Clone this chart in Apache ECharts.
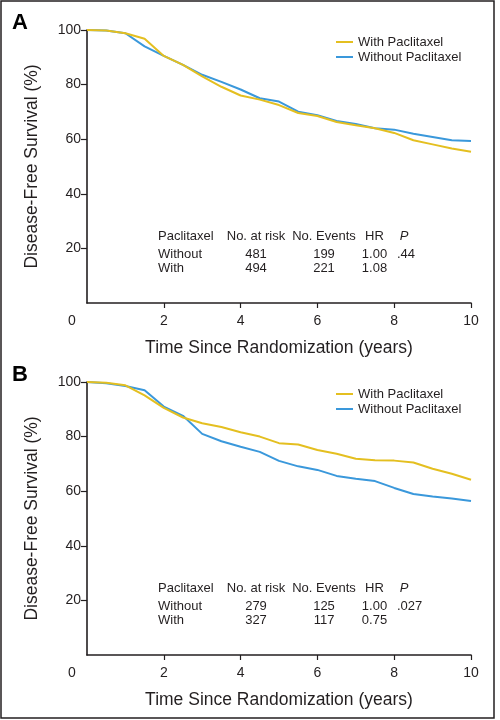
<!DOCTYPE html>
<html>
<head>
<meta charset="utf-8">
<script src="https://cdn.jsdelivr.net/npm/echarts@6/dist/echarts.min.js"></script>
<style>
html,body{margin:0;padding:0;background:#fff;}
#chart{width:500px;height:720px;}
</style>
</head>
<body>
<div id="chart"></div>
<script>
// ---- data ----
const years = [0, 0.5, 1, 1.5, 2, 2.5, 3, 3.5, 4, 4.5, 5, 5.5, 6, 6.5, 7, 7.5, 8, 8.5, 9, 9.5, 10];
const xTicks = [0, 2, 4, 6, 8, 10];
const yTicks = [0, 20, 40, 60, 80, 100];

const withA    = [100, 99.8, 98.8, 96.8, 90.5, 87.2, 83.0, 79.2, 76.0, 74.5, 72.5, 69.6, 68.5, 66.3, 65.1, 64.0, 62.3, 59.6, 58.1, 56.6, 55.4];
const withoutA = [100, 99.8, 98.8, 94.0, 90.5, 87.2, 83.6, 81.0, 78.2, 75.0, 73.8, 70.1, 68.8, 66.7, 65.6, 64.0, 63.5, 62.0, 60.8, 59.6, 59.3];

const withB    = [100, 99.7, 98.8, 95.1, 90.5, 87.0, 84.9, 83.5, 81.6, 80.0, 77.6, 77.1, 75.1, 73.7, 71.9, 71.3, 71.2, 70.5, 68.2, 66.4, 64.2];
const withoutB = [100, 99.5, 98.5, 97.0, 91.0, 87.6, 81.0, 78.3, 76.3, 74.4, 71.1, 69.1, 67.8, 65.6, 64.6, 63.7, 61.2, 59.0, 58.1, 57.3, 56.4];

const seriesNames = ['With Paclitaxel', 'Without Paclitaxel'];
const panelLabels = ['A', 'B'];
const tableHeader = ['Paclitaxel', 'No. at risk', 'No. Events', 'HR', 'P'];
const tableA = [['Without', '481', '199', '1.00', '.44'], ['With', '494', '221', '1.08', '']];
const tableB = [['Without', '279', '125', '1.00', '.027'], ['With', '327', '117', '0.75', '']];

// ---- styles ----
const YELLOW = '#E4BF20';
const BLUE = '#3A98DB';
const INK = '#231f20';
const SANS = '"Liberation Sans", Arial, Helvetica, sans-serif';

const grids = [
  {left: 87, right: 29, top: 30, height: 273},
  {left: 87, right: 29, top: 382, height: 273}
];

function pair(xs, ys) { return xs.map((x, i) => [x, ys[i]]); }

function xAxis(gi) {
  return {
    type: 'value', gridIndex: gi, min: 0, max: 10, interval: 2,
    axisLine: {show: true, onZero: false, lineStyle: {color: INK, width: 1.6}},
    axisTick: {show: true, length: 5, lineStyle: {color: INK, width: 1.2},
      customValues: xTicks.filter(v => v > 0)},
    axisLabel: {
      margin: 11, color: INK, fontSize: 14, fontFamily: SANS,
      formatter: v => v === 0 ? '{z|0}' : String(v),
      rich: {z: {fontSize: 14, fontFamily: SANS, color: INK, padding: [0, 30, 0, 0]}}
    },
    splitLine: {show: false},
    name: 'Time Since Randomization (years)', nameLocation: 'middle', nameGap: 36,
    nameTextStyle: {color: INK, fontSize: 17.5, fontFamily: SANS}
  };
}
function yAxis(gi) {
  return {
    type: 'value', gridIndex: gi, min: 0, max: 100, interval: 20,
    axisLine: {show: true, lineStyle: {color: INK, width: 1.6}},
    axisTick: {show: true, length: 6, lineStyle: {color: INK, width: 1.2},
      customValues: yTicks.filter(v => v > 0)},
    axisLabel: {margin: 6, color: INK, fontSize: 14, fontFamily: SANS,
      formatter: v => v === 0 ? '' : String(v)},
    splitLine: {show: false},
    name: 'Disease-Free Survival (%)', nameLocation: 'middle', nameGap: 46,
    nameTextStyle: {color: INK, fontSize: 17.5, fontFamily: SANS}
  };
}
function line(name, data, color, gi) {
  return {
    type: 'line', name: name, xAxisIndex: gi, yAxisIndex: gi,
    data: pair(years, data), symbol: 'none', smooth: false,
    lineStyle: {color: color, width: 2}, itemStyle: {color: color},
    silent: true, animation: false
  };
}
function legend(top) {
  return {
    data: seriesNames, orient: 'vertical', left: 331, top: top,
    icon: 'rect', itemWidth: 17, itemHeight: 2, itemGap: 1,
    textStyle: {color: INK, fontSize: 13, fontFamily: SANS, lineHeight: 14},
    selectedMode: false
  };
}

// table text via graphic
const colX = [158, 256, 324, 374.5, 397];
const colAlign = ['left', 'center', 'center', 'center', 'left'];
function tableGraphics(axisY, rows) {
  const out = [];
  const headY = axisY - 67, rowY = [axisY - 49, axisY - 35];
  tableHeader.forEach((t, j) => {
    out.push({type: 'text', x: j === 4 ? 404 : colX[j], y: headY,
      style: {text: t, fill: INK, font: (j === 4 ? 'italic ' : '') + '13px ' + SANS,
        textAlign: j === 4 ? 'center' : colAlign[j], textVerticalAlign: 'middle'}});
  });
  rows.forEach((r, i) => r.forEach((t, j) => {
    if (!t) return;
    out.push({type: 'text', x: colX[j], y: rowY[i],
      style: {text: t, fill: INK, font: '13px ' + SANS,
        textAlign: colAlign[j], textVerticalAlign: 'middle'}});
  }));
  return out;
}

const graphics = [
  {type: 'rect', shape: {x: 1, y: 1, width: 493, height: 717},
    style: {fill: 'none', stroke: INK, lineWidth: 1.5}},
  {type: 'text', x: 12, y: 23, style: {text: panelLabels[0], fill: '#000', font: 'bold 22px ' + SANS, textVerticalAlign: 'middle'}},
  {type: 'text', x: 12, y: 375, style: {text: panelLabels[1], fill: '#000', font: 'bold 22px ' + SANS, textVerticalAlign: 'middle'}}
].concat(tableGraphics(303, tableA), tableGraphics(655, tableB));

const chart = echarts.init(document.getElementById('chart'), null, {renderer: 'canvas'});
chart.setOption({
  backgroundColor: '#fff',
  animation: false,
  grid: grids,
  xAxis: [xAxis(0), xAxis(1)],
  yAxis: [yAxis(0), yAxis(1)],
  legend: [legend(30), legend(382)],
  series: [
    line(seriesNames[1], withoutA, BLUE, 0),
    line(seriesNames[0], withA, YELLOW, 0),
    line(seriesNames[1], withoutB, BLUE, 1),
    line(seriesNames[0], withB, YELLOW, 1)
  ],
  graphic: graphics
});
</script>
</body>
</html>
